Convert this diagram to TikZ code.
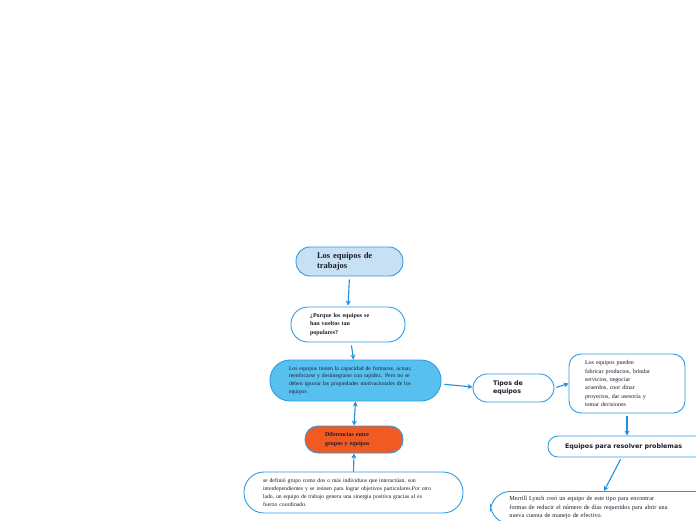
\documentclass[tikz,border=0pt]{standalone}
\usepackage{fontspec}
\setmainfont{Liberation Serif}
\newfontfamily\verdana{DejaVu Sans}
\usepackage{tikz}
\usetikzlibrary{arrows.meta,positioning,calc}
\definecolor{edgeblue}{HTML}{2B9BE6}
\definecolor{arrblue}{HTML}{1F8FDC}
\definecolor{paleblue}{HTML}{C8E0F4}
\definecolor{midblue}{HTML}{58C0EF}
\definecolor{orangebg}{HTML}{F15A22}
\definecolor{ink}{HTML}{1C1C2A}
\tikzset{
  bubble/.style={draw=edgeblue,fill=white,line width=0.9pt,
                 align=left,text=ink,inner ysep=2pt},
  tinytext/.style={font=\fontsize{5.7}{7.9}\selectfont},
  boldtext/.style={font=\fontsize{6}{8.4}\selectfont\bfseries},
  sanstext/.style={font=\verdana\fontsize{6.3}{8}\selectfont\bfseries},
  linkarr/.style={-{Stealth[length=5pt,width=5pt]},line width=1.1pt,color=arrblue}
}

\begin{document}
\begin{tikzpicture}[x=1pt,y=-1pt]
  \useasboundingbox (0,0) rectangle (696,520);
  % main column
  \node[bubble,fill=paleblue,font=\fontsize{8.5}{9.5}\selectfont\bfseries,
        text width=65,inner xsep=21,minimum height=29,rounded corners=14]
        (trab) at (349.5,261.5) {Los equipos de\\trabajos};
  \node[bubble,boldtext,text width=76,inner xsep=19,minimum height=35,rounded corners=17]
        (porque) at (348,324.5) {¿Porque los equipos se\\han vueltos tan\\populares?};
  \node[bubble,fill=midblue,tinytext,text width=133,inner xsep=19,minimum height=41,rounded corners=20]
        (capac) at (355.5,380.5) {Los equipos tienen la capacidad de formarse, actuar,\\reenfocarse y desintegrarse con rapidez. Pero no se\\deben ignorar las propiedades motivacionales de los\\equipos};
  \node[bubble,fill=orangebg,boldtext,text width=58,inner xsep=20,minimum height=27,rounded corners=13]
        (difer) at (354,439.5) {Diferencias entre\\grupos y equipos};
  \node[bubble,tinytext,text width=181,inner xsep=19,minimum height=41,rounded corners=20]
        (grupo) at (353.5,492.5) {se definió grupo como dos o más individuos que interactúan, son\\interdependientes y se reúnen para lograr objetivos particulares.Por otro\\lado, un equipo de trabajo genera una sinergia positiva gracias al es\\fuerzo coordinado.};
  % right branch
  \node[bubble,sanstext,text width=41,inner xsep=20,minimum height=28,rounded corners=14]
        (tipos) at (513.5,388) {Tipos de\\equipos};
  \node[bubble,font=\fontsize{6}{8.3}\selectfont,text width=84,inner xsep=16,minimum height=59,rounded corners=12]
        (pueden) at (627,383.5) {Los equipos pueden\\fabricar productos, brindar\\servicios, negociar\\acuerdos, coor dinar\\proyectos, dar asesoría y\\tomar decisiones};
  \node[bubble,sanstext,text width=150,inner xsep=17,minimum height=21,rounded corners=10]
        (solv) at (640,446.5) {Equipos para resolver problemas};
  \node[bubble,font=\fontsize{6.2}{8.4}\selectfont,text width=200,inner xsep=19,inner ysep=5,rounded corners=20,anchor=north west]
        (merrill) at (490,491) {Merrill Lynch creó un equipo de este tipo para encontrar\\formas de reducir el número de días requeridos para abrir una\\nueva cuenta de manejo de efectivo.};
  % connectors
  \draw[linkarr,shorten <=3pt,shorten >=1pt] (trab.south) -- (porque.north);
  \draw[linkarr,shorten <=3pt] ([xshift=3pt]porque.south) -- ([xshift=-2pt]capac.north);
  \draw[linkarr,{Stealth[length=5pt,width=5pt]}-{Stealth[length=5pt,width=5pt]}] (capac.south) -- (difer.north);
  \draw[linkarr] (grupo.north) -- (difer.south);
  \draw[linkarr,shorten <=3pt] ([yshift=-3.5pt]capac.east) -- ([yshift=1pt]tipos.west);
  \draw[linkarr,shorten <=2pt] (tipos.east) -- (pueden.west);
  \draw[linkarr,shorten <=3pt] (pueden.south) -- (pueden.south |- solv.north);
  \draw[linkarr,shorten <=2pt] ([xshift=74pt]solv.south west) -- ([xshift=114pt]merrill.north west);
\end{tikzpicture}
\end{document}
